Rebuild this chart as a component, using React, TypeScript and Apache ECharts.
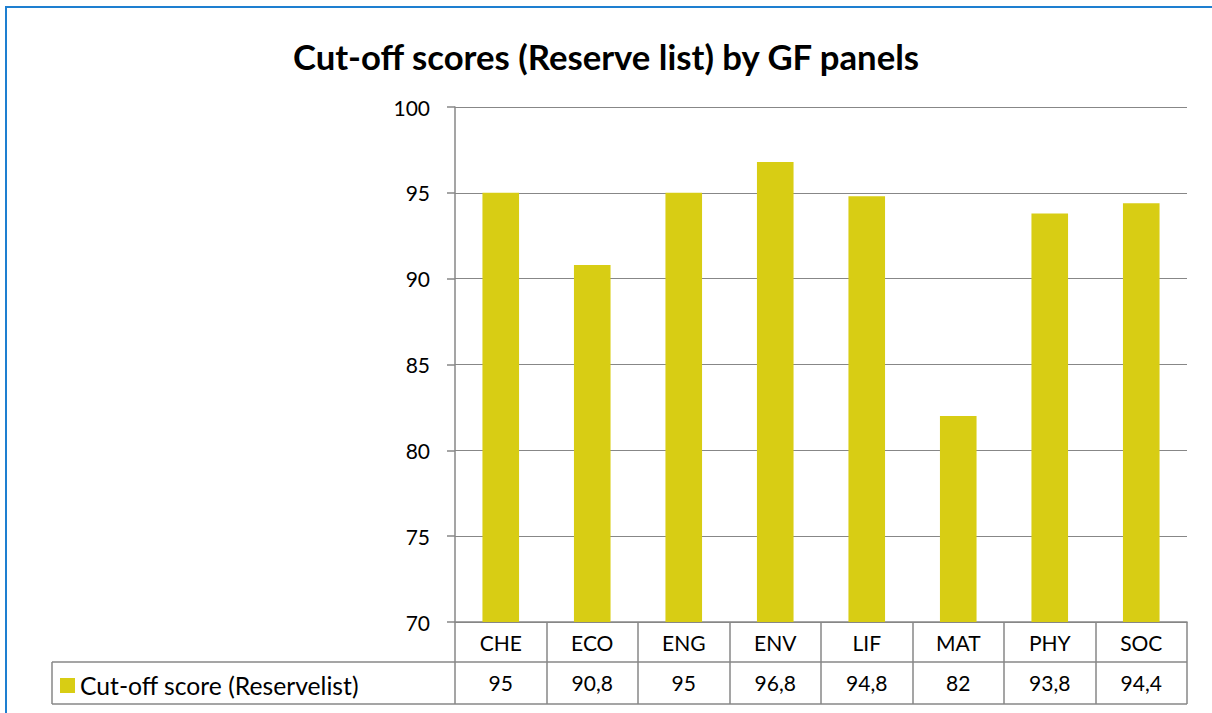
import React, { useEffect, useRef } from "react";
import * as echarts from "echarts";

const categories = ["CHE", "ECO", "ENG", "ENV", "LIF", "MAT", "PHY", "SOC"];
const values = [95, 90.8, 95, 96.8, 94.8, 82, 93.8, 94.4];
const valueLabels = ["95", "90,8", "95", "96,8", "94,8", "82", "93,8", "94,4"];
const seriesName = "Cut-off score (Reservelist)";
const titleText = "Cut-off scores (Reserve list) by GF panels";

const FONT = "Lato";
const GRAY = "#878787";
const BAR = "#D8CD14";

export default function App() {
  const ref = useRef<HTMLDivElement>(null);
  useEffect(() => {
    document.body.style.margin = "0";
    const chart = echarts.init(ref.current!, undefined, { renderer: "svg" });
    const gridLeft = 455, gridRight = 25, gridTop = 107, gridBottom = 91;
    const W = 1212, H = 713;
    const axisY = H - gridBottom; // 622
    const row1 = axisY + 40;
    const row2 = axisY + 82;
    const legendLeft = 52;
    const plotRight = W - gridRight;
    chart.setOption({
      animation: false,
      textStyle: { fontFamily: FONT },
      title: {
        text: titleText,
        left: "center",
        top: 34,
        textStyle: { fontFamily: FONT, fontWeight: "bold", fontSize: 34.7, color: "#000" },
      },
      legend: {
        left: 55,
        top: row1 + 6,
        icon: "rect",
        itemWidth: 15,
        itemHeight: 15,
        itemGap: 6,
        textStyle: { fontFamily: FONT, fontSize: 24.7, color: "#000" },
        data: [seriesName],
      },
      grid: { left: gridLeft, right: gridRight, top: gridTop, bottom: gridBottom },
      xAxis: [
        {
          type: "category",
          data: categories,
          boundaryGap: true,
          axisLine: { show: true, lineStyle: { color: GRAY, width: 1.5 } },
          axisTick: { show: true, length: 82, lineStyle: { color: GRAY, width: 1.5 } },
          axisLabel: { color: "#000", fontSize: 21, fontFamily: FONT, margin: 10 },
        },
        {
          type: "category",
          data: valueLabels,
          position: "bottom",
          offset: 40,
          boundaryGap: true,
          axisLine: { show: false },
          axisTick: { show: false },
          axisLabel: { color: "#000", fontSize: 21, fontFamily: FONT, margin: 10 },
        },
      ],
      yAxis: {
        type: "value",
        min: 70,
        max: 100,
        interval: 5,
        axisLine: { show: true, lineStyle: { color: GRAY, width: 1.5 } },
        axisTick: { show: true, length: 8, lineStyle: { color: GRAY, width: 1.5 } },
        splitLine: { show: true, lineStyle: { color: GRAY, width: 1.2 } },
        axisLabel: { color: "#000", fontSize: 21, fontFamily: FONT, margin: 25 },
      },
      series: [
        {
          name: seriesName,
          type: "bar",
          data: values,
          barWidth: "40%",
          itemStyle: { color: BAR },
          xAxisIndex: 0,
        },
      ],
      graphic: [
        {
          type: "rect",
          shape: { x: 6, y: 7, width: W + 20, height: H + 20 },
          style: { fill: "none", stroke: "#1E7FD0", lineWidth: 2 },
          silent: true,
        },
        {
          type: "line",
          shape: { x1: legendLeft, y1: row1, x2: plotRight, y2: row1 },
          style: { stroke: GRAY, lineWidth: 1.5 },
        },
        {
          type: "line",
          shape: { x1: legendLeft, y1: row2, x2: plotRight, y2: row2 },
          style: { stroke: GRAY, lineWidth: 1.5 },
        },
        {
          type: "line",
          shape: { x1: legendLeft, y1: row1, x2: legendLeft, y2: row2 },
          style: { stroke: GRAY, lineWidth: 1.5 },
        },
      ],
    });
    return () => chart.dispose();
  }, []);
  return (
    <div
      ref={ref}
      style={{ position: "absolute", left: 0, top: 0, width: 1212, height: 713, background: "#fff" }}
    />
  );
}
